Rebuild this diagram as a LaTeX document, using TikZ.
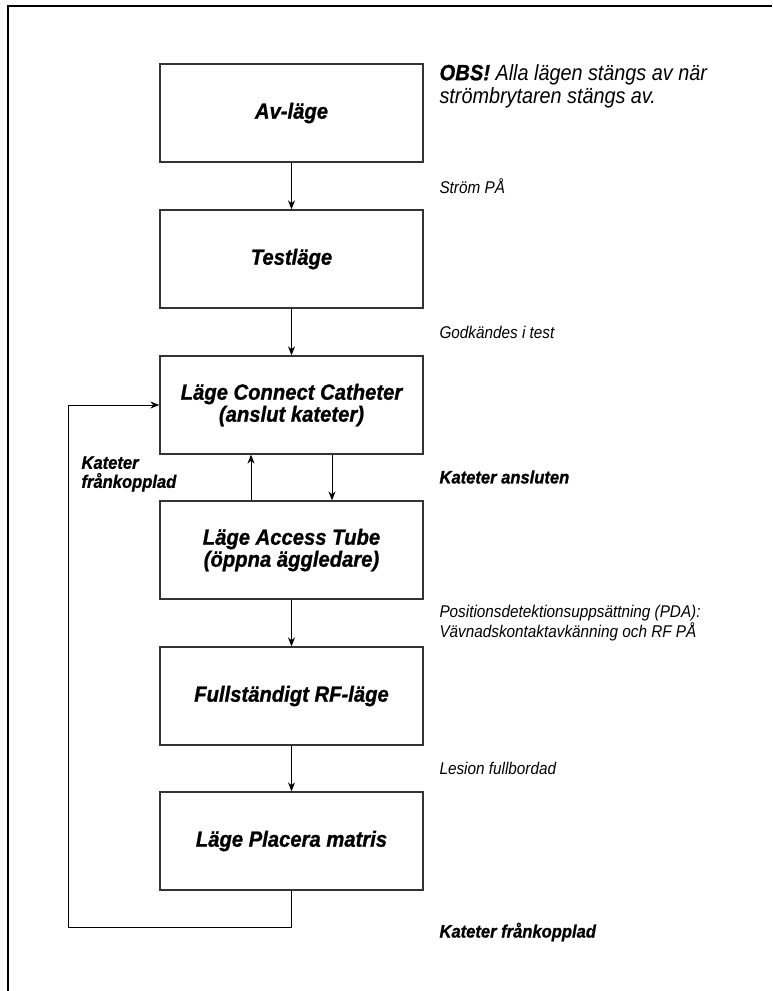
\documentclass[tikz,border=0pt]{standalone}
\usepackage{fontspec}
\newfontfamily\condfont{Liberation Sans}[FakeStretch=0.9]
\newfontfamily\heavyfont{Liberation Sans}[FakeStretch=0.92, FakeBold=1]
\usetikzlibrary{arrows.meta}
\usetikzlibrary{positioning}
\tikzset{
    mode/.style={draw=black!80, line width=1.3pt, minimum width=263pt, minimum height=98pt,
        inner sep=0pt, align=center, font=\heavyfont\bfseries\itshape\fontsize{22}{22}\selectfont},
    trans/.style={draw=black, line width=1pt, -{Stealth[length=9pt,width=7pt]}},
    event/.style={anchor=west, align=left, font=\condfont\itshape\fontsize{17}{18}\selectfont},
    eventbold/.style={anchor=west, align=left, font=\heavyfont\bfseries\itshape\fontsize{18}{19}\selectfont},
}

\begin{document}
\begin{tikzpicture}[x=1pt, y=-1pt]
	\useasboundingbox (0,0) rectangle (772,991);
	\draw[line width=2.5pt] (8,991)--(8,6)--(772,6);
	% modes
	\node[mode] (off) at (291.5,113) {Av-läge};
	\node[mode] (test) at (291.5,259) {Testläge};
	\node[mode] (connect) at (291.5,405) {Läge Connect Catheter\\(anslut kateter)};
	\node[mode] (access) at (291.5,550) {Läge Access Tube\\(öppna äggledare)};
	\node[mode] (rf) at (291.5,696) {Fullständigt RF-läge};
	\node[mode] (place) at (291.5,841) {Läge Placera matris};
	% transitions
	\draw[trans] (off)--(test);
	\draw[trans] (test)--(connect);
	\draw[trans] ([xshift=40.5pt]connect.south)--([xshift=40.5pt]access.north);
	\draw[trans] ([xshift=-40.5pt]access.north)--([xshift=-40.5pt]connect.south);
	\draw[trans] (access)--(rf);
	\draw[trans] (rf)--(place);
	\coordinate (loopbot) at (68,927);
	\draw[trans] (place.south) |- (loopbot) |- (connect.west);
	% labels
	\node[anchor=west, align=left, font=\condfont\itshape\fontsize{22}{23}\selectfont] (note) at (436,86)
		{{\heavyfont\bfseries OBS!} Alla lägen stängs av när\\strömbrytaren stängs av.};
	\node[event] (lpower) at (436,186) {Ström PÅ};
	\node[event] (lpass) at (436,332) {Godkändes i test};
	\node[eventbold] (lconn) at (436,477) {Kateter ansluten};
	\node[eventbold] (ldisc) at (78,474) {Kateter\\frånkopplad};
	\node[event] (lpda) at (436,623) {Positionsdetektionsuppsättning (PDA):\\Vävnadskontaktavkänning och RF PÅ};
	\node[event] (lesion) at (436,768) {Lesion fullbordad};
	\node[eventbold] (ldisc2) at (436,932) {Kateter frånkopplad};
\end{tikzpicture}
\end{document}
